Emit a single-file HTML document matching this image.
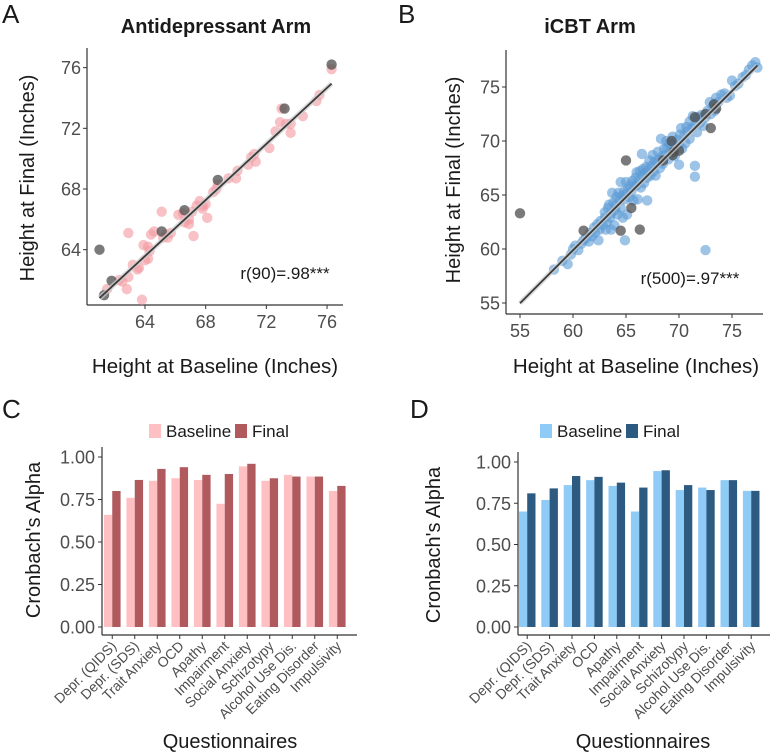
<!DOCTYPE html>
<html><head><meta charset="utf-8"><style>
html,body{margin:0;padding:0;background:#fff;}
svg{display:block;font-family:"Liberation Sans",Arial,sans-serif;}
</style></head><body>
<svg id="fig" width="778" height="756" viewBox="0 0 778 756" xmlns="http://www.w3.org/2000/svg">
<g id="static" fill="#1a1a1a">
<text x="2" y="23" font-size="26">A</text>
<text x="398" y="23" font-size="26">B</text>
<text x="2" y="418" font-size="26">C</text>
<text x="410" y="418" font-size="26">D</text>
<text x="216" y="33" font-size="20" font-weight="bold" text-anchor="middle">Antidepressant Arm</text>
<text x="590" y="33" font-size="20" font-weight="bold" text-anchor="middle">iCBT Arm</text>
<text transform="translate(34,178) rotate(-90)" font-size="20" text-anchor="middle">Height at Final (Inches)</text>
<text transform="translate(460,180) rotate(-90)" font-size="20" text-anchor="middle">Height at Final (Inches)</text>
<text x="215" y="373" font-size="20.5" text-anchor="middle">Height at Baseline (Inches)</text>
<text x="636" y="373" font-size="20.5" text-anchor="middle">Height at Baseline (Inches)</text>
<text x="285" y="279" font-size="17" text-anchor="middle">r(90)=.98***</text>
<text x="690" y="284" font-size="17" text-anchor="middle">r(500)=.97***</text>
<text transform="translate(40,540) rotate(-90)" font-size="20" text-anchor="middle">Cronbach's Alpha</text>
<text transform="translate(440,545) rotate(-90)" font-size="20" text-anchor="middle">Cronbach's Alpha</text>
<text x="230" y="748" font-size="20" text-anchor="middle">Questionnaires</text>
<text x="643" y="748" font-size="20" text-anchor="middle">Questionnaires</text>
</g>
</svg>
<script>
const NS="http://www.w3.org/2000/svg";
const svg=document.getElementById('fig');
function mk(tag,attrs,parent){const e=document.createElementNS(NS,tag);for(const k in attrs)e.setAttribute(k,attrs[k]);(parent||svg).appendChild(e);return e;}

// ---- Panel A data ----
const aPinkX=[61.5,62.3,62.5,62.8,62.9,63.2,63.5,63.6,62.9,63.9,64.2,64.0,63.8,64.3,64.2,64.4,64.6,65.2,65.4,65.5,65.7,65.1,66.2,66.5,66.6,66.9,66.9,67.1,67.4,67.6,67.8,67.8,68.0,68.1,67.2,68.5,68.7,68.8,69.5,70.1,70.0,70.8,71.0,71.2,71.3,72.2,72.6,72.9,73.3,73.0,73.6,73.6,74.4,75.3,75.5,76.3];
const aPinkY=[61.4,62.0,61.9,61.4,62.2,63.0,62.7,62.8,65.1,64.3,64.2,63.3,60.7,63.9,63.4,65.0,65.2,64.8,65.0,64.8,65.1,66.5,66.3,66.4,65.8,66.0,65.7,66.5,66.9,67.2,66.9,66.7,67.0,66.1,64.9,67.8,68.0,68.3,68.7,69.2,68.7,69.6,70.1,70.3,69.8,70.7,71.8,72.4,72.3,73.3,71.7,72.3,72.8,73.8,74.2,75.9];
const aGreyX=[61.0,61.3,61.8,65.1,66.6,68.8,73.2,76.3];
const aGreyY=[64.0,61.0,61.95,65.2,66.6,68.6,73.3,76.2];
const aTicks=[64,68,72,76];

// ---- Panel B data ----
const bBlueX=[58.2,59,59.5,59.8,60,60.2,60.5,60.8,61,61.2,61.5,61.6,61.8,62,62.1,62.3,62.4,62.5,62.6,62.8,63,63,63.1,63.2,63.3,63.4,63.5,63.6,63.7,63.8,63.9,64,64,64.1,64.2,64.3,64.4,64.5,64.5,64.6,64.7,64.8,64.9,65,65,65.1,65.2,65.3,65.4,65.5,65.6,65.7,65.8,65.9,66,66,66.1,66.2,66.3,66.4,66.5,66.5,66.6,66.7,66.8,66.9,67,67,67.1,67.2,67.3,67.4,67.5,67.6,67.7,67.8,67.9,68,68.1,68.2,68.3,68.4,68.5,68.6,68.7,68.8,68.9,69,69.1,69.2,69.4,69.5,69.6,69.8,70,70,70.1,70.2,70.3,70.5,70.6,70.7,70.8,71,71,71.2,71.3,71.5,71.5,71.5,71.7,71.8,72,72.1,72.3,72.5,72.5,72.7,72.9,73,73.2,73.4,73.5,73.7,74,74.3,74.5,74.8,75,75.3,75.6,76,76.3,76.6,76.9,77.2,77.4,64.9,63.6];
const bBlueY=[58.1,58.9,58.6,59.5,60,60.3,59.9,60.5,60.8,61,60.7,61.5,61.2,62,61.5,62.3,60.8,61.8,62.6,62.2,62.9,63.4,61.8,62.5,63.8,64.1,62.9,63.3,65.2,64.3,62.2,64,63.6,64.8,63.2,65.2,64.5,63.8,66.2,64.9,62.9,65.3,64.6,65.1,66.2,63.2,65.6,64.8,65.9,65.3,66.3,64.5,65.8,66.6,65.9,67.1,64.6,66.3,67.2,65.7,66.8,68.8,67.4,66.1,67,67.6,64.5,66.6,67.3,68.2,66.8,67.7,68.7,67.2,68.1,66.8,67.9,69,68.3,67.5,70.2,68.6,67.9,69.3,68.7,70,69.4,68.3,69.8,69.1,70.4,69.6,68.6,70.1,67.8,69.7,70.6,71.2,69.3,70.5,69.8,71.3,70.9,70.2,71.8,71.2,72.3,66.7,67.7,71.5,70.8,72.2,71.7,72.4,71.4,59.9,72.2,72.8,73.6,72.5,73.2,72.8,74,73.6,74.3,74.4,74,74.2,75.6,75.1,75.3,75.9,76.1,76.6,77,77.3,76.8,60.8,61.8];
const bGreyX=[55,61,64.5,66.3,65.5,65,68.5,69.5,70,69.3,69.4,71.5,73,73.5,73.3,72.5];
const bGreyY=[63.3,61.7,61.7,61.8,63.8,68.2,68.2,69,69.1,70,68.7,72.2,71.2,73,73.4,72.5];
const bXTicks=[55,60,65,70,75];
const bYTicks=[55,60,65,70,75];

// ---- Panels C/D data ----
const categories=["Depr. (QIDS)","Depr. (SDS)","Trait Anxiety","OCD","Apathy","Impairment","Social Anxiety","Schizotypy","Alcohol Use Dis.","Eating Disorder","Impulsivity"];
const cBaseline=[0.66,0.76,0.86,0.875,0.865,0.725,0.945,0.86,0.895,0.885,0.80];
const cFinal=[0.80,0.865,0.93,0.94,0.895,0.90,0.96,0.875,0.885,0.885,0.83];
const dBaseline=[0.70,0.77,0.86,0.89,0.855,0.70,0.945,0.83,0.845,0.89,0.825];
const dFinal=[0.81,0.84,0.915,0.91,0.875,0.845,0.95,0.86,0.83,0.89,0.825];
const alphaTicks=[0,0.25,0.5,0.75,1.0];
const alphaTickLabels=["0.00","0.25","0.50","0.75","1.00"];

function regress(xs,ys){const n=xs.length;let mx=0,my=0;for(let i=0;i<n;i++){mx+=xs[i];my+=ys[i];}mx/=n;my/=n;let sxy=0,sxx=0;for(let i=0;i<n;i++){sxy+=(xs[i]-mx)*(ys[i]-my);sxx+=(xs[i]-mx)**2;}const b=sxy/sxx;return [my-b*mx,b];}

function scatterPanel(cfg){
  const g=mk('g',{});
  
  
  const xs=cfg.xs, ys=cfg.ys;
  const ya=mk('line',{x1:cfg.x0,y1:cfg.top,x2:cfg.x0,y2:cfg.y0,stroke:'#333','stroke-width':1.2},g);
  
  
  const xa=mk('line',{x1:cfg.x0,y1:cfg.y0,x2:cfg.right,y2:cfg.y0,stroke:'#333','stroke-width':1.2},g);
  
  
  cfg.xticks.forEach(v=>{const x=xs(v);
    mk('line',{x1:x,y1:cfg.y0,x2:x,y2:cfg.y0+4,stroke:'#333'},g);
    const t=mk('text',{x:x,y:cfg.y0+23,'font-size':18,fill:'#4d4d4d','text-anchor':'middle'},g);t.textContent=v;
    
    });
  cfg.yticks.forEach(v=>{const y=ys(v);
    mk('line',{x1:cfg.x0-4,y1:y,x2:cfg.x0,y2:y,stroke:'#333'},g);
    const t=mk('text',{x:cfg.x0-6,y:y+6.5,'font-size':18,fill:'#4d4d4d','text-anchor':'end'},g);t.textContent=v;
    
    });
  cfg.px.forEach((v,i)=>{const c=mk('circle',{cx:xs(v),cy:ys(cfg.py[i]),r:5.2,fill:cfg.color,'fill-opacity':0.6},g);
    
    });
  cfg.gx.forEach((v,i)=>{const c=mk('circle',{cx:xs(v),cy:ys(cfg.gy[i]),r:5.2,fill:'#4d4d4d','fill-opacity':0.75},g);
    
    });
  const allX=cfg.px.concat(cfg.gx);
  const [a,b]=regress(cfg.px,cfg.py);
  const lo=Math.min(...allX), hi=Math.max(...allX);
  mk('line',{x1:xs(lo),y1:ys(a+b*lo),x2:xs(hi),y2:ys(a+b*hi),stroke:'#cfcfcf','stroke-width':5,'stroke-opacity':0.7},g);
  const l=mk('line',{x1:xs(lo),y1:ys(a+b*lo),x2:xs(hi),y2:ys(a+b*hi),stroke:'#3a3a3a','stroke-width':1.8},g);
  
  
}
scatterPanel({name:'scatter-antidepressant',x0:87,y0:305,top:48,right:343,
  xs:v=>145+(v-64)*15.17, ys:v=>189-(v-68)*15.17, xticks:aTicks, yticks:aTicks,
  px:aPinkX,py:aPinkY,gx:aGreyX,gy:aGreyY,color:'#f4979f'});
scatterPanel({name:'scatter-icbt',x0:506,y0:314,top:50,right:763,
  xs:v=>573+(v-60)*10.6, ys:v=>303-(v-55)*10.8, xticks:bXTicks, yticks:bYTicks,
  px:bBlueX,py:bBlueY,gx:bGreyX,gy:bGreyY,color:'#5b9bd5'});

function barPanel(cfg){
  const g=mk('g',{});
  
  
  const ys=v=>cfg.y0-v*cfg.h;
  const ya=mk('line',{x1:cfg.x0,y1:cfg.y0-cfg.h-10,x2:cfg.x0,y2:cfg.y0+8,stroke:'#333','stroke-width':1.2},g);
  
  
  const xa=mk('line',{x1:cfg.x0,y1:cfg.y0+8,x2:cfg.right,y2:cfg.y0+8,stroke:'#333','stroke-width':1.2},g);
  
  
  alphaTicks.forEach((v,i)=>{const y=ys(v);
    mk('line',{x1:cfg.x0-4,y1:y,x2:cfg.x0,y2:y,stroke:'#333'},g);
    const t=mk('text',{x:cfg.x0-7,y:y+6.5,'font-size':18,fill:'#4d4d4d','text-anchor':'end'},g);t.textContent=alphaTickLabels[i];
    
    });
  const step=cfg.step, bw=step*0.37;
  categories.forEach((c,i)=>{const cx=cfg.start+step*(i+0.5);
    const r1=mk('rect',{x:cx-bw,y:ys(cfg.base[i]),width:bw,height:cfg.base[i]*cfg.h,fill:cfg.c1},g);
    
    
    const r2=mk('rect',{x:cx,y:ys(cfg.fin[i]),width:bw,height:cfg.fin[i]*cfg.h,fill:cfg.c2},g);
    
    
    mk('line',{x1:cx,y1:cfg.y0+8,x2:cx,y2:cfg.y0+12,stroke:'#333'},g);
    const t=mk('text',{transform:`translate(${cx+5},${cfg.y0+20}) rotate(-45)`,'font-size':14,fill:'#4d4d4d','text-anchor':'end'},g);t.textContent=c;
    
    });
  const lg=mk('g',{},g);
  
  
  [[cfg.c1,'Baseline',cfg.lx],[cfg.c2,'Final',cfg.lx+86]].forEach(([col,lab,x])=>{
    mk('rect',{x:x,y:424,width:12,height:14,fill:col},lg);
    const t=mk('text',{x:x+17,y:437,'font-size':17,fill:'#1a1a1a'},lg);t.textContent=lab;
    
    });
}
barPanel({name:'bar-chart-antidepressant',x0:102,y0:627,h:170,right:357,start:101,step:22.5,base:cBaseline,fin:cFinal,c1:'#ffc0c3',c2:'#b05a5e',lx:149});
barPanel({name:'bar-chart-icbt',x0:518,y0:627,h:165,right:770,start:516,step:22.4,base:dBaseline,fin:dFinal,c1:'#8fcbf7',c2:'#2d5a80',lx:540});
</script>
</body></html>
